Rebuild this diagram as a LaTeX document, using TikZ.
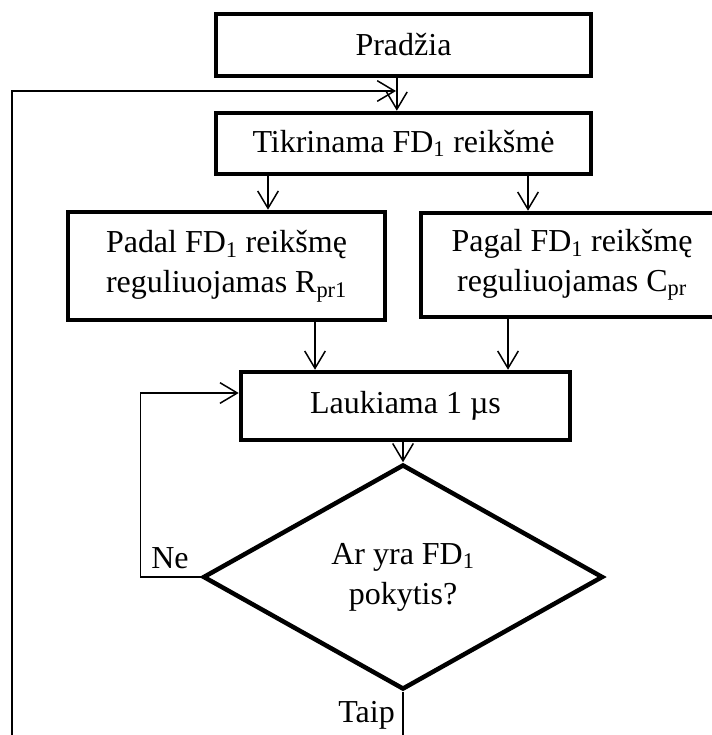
\documentclass[tikz,border=0pt]{standalone}
\usepackage{fontspec}
\setmainfont{Liberation Serif}
\usetikzlibrary{arrows.meta,shapes.geometric}

\tikzset{
blokas/.style={draw,line width=0.135cm,align=center,inner sep=0pt},
rombas/.style={diamond,draw,line width=0.135cm,align=center,inner sep=0pt,minimum width=12cm,minimum height=6.75cm},
rodykle/.style={line width=0.045cm,-{Straight Barb[length=0.52cm,width=0.62cm]}},
linija/.style={line width=0.045cm}
}

\begin{document}
\begin{tikzpicture}[x=0.03cm,y=-0.03cm,font=\fontsize{27.3}{34}\selectfont]

\useasboundingbox (0,0) rectangle (712,735);

\node[blokas,minimum width=11.25cm,minimum height=1.86cm] (pradzia) at (403.5,45) {Pradžia};
\node[blokas,minimum width=11.25cm,minimum height=1.83cm] (tikr) at (403.5,143.5) {Tikrinama FD\textsubscript{1} reikšmė};
\node[blokas,minimum width=9.51cm,minimum height=3.24cm] (padal) at (226.5,266) {Padal FD\textsubscript{1} reikšmę\\reguliuojamas R\textsubscript{pr1}};
\node[blokas,minimum width=9.06cm,minimum height=3.12cm] (pagal) at (572,265) {Pagal FD\textsubscript{1} reikšmę\\reguliuojamas C\textsubscript{pr}};
\node[blokas,minimum width=9.87cm,minimum height=2.04cm] (laukiama) at (405.5,406) {Laukiama 1 µs};
\node[rombas] (diam) at (403,577) {Ar yra FD\textsubscript{1}\\pokytis?};

\node[anchor=base,inner sep=0pt] (ne) at (170,568) {Ne};
\node[anchor=base east,inner sep=0pt] (taip) at (395,722) {Taip};

\coordinate (kaire) at (12,740);
\coordinate (grizimas) at (396,91);
\coordinate (apacia) at (403,740);

% rodykles
\draw[rodykle] ([xshift=-0.2cm]pradzia.south) -- ([xshift=-0.2cm]tikr.north);
\draw[rodykle] (tikr.south -| 268,0) -- (padal.north -| 268,0);
\draw[rodykle] (tikr.south -| 528,0) -- (pagal.north -| 528,0);
\draw[rodykle] (padal.south -| 315,0) -- (laukiama.north -| 315,0);
\draw[rodykle] (pagal.south -| 508,0) -- (laukiama.north -| 508,0);
\draw[rodykle] (laukiama.south -| diam.north) -- (diam.north);
\draw[rodykle] (diam.west) -- ++(-60,0) |- ([yshift=0.39cm]laukiama.west);
\draw[linija] (diam.south) -- (apacia);
\draw[rodykle] (kaire) |- (grizimas);

\end{tikzpicture}
\end{document}
